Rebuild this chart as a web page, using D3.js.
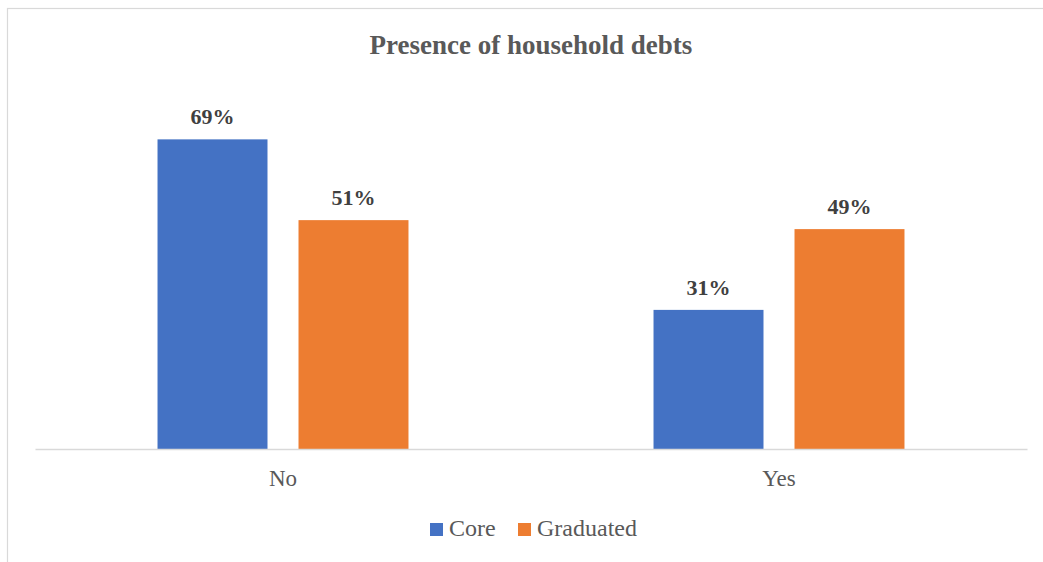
<!DOCTYPE html>
<html>
<head>
<meta charset="utf-8">
<script src="https://cdn.jsdelivr.net/npm/d3@7"></script>
<style>
  html, body { margin: 0; padding: 0; background: #fff; }
  svg { display: block; }
</style>
</head>
<body>
<svg id="chart" width="1043" height="562"></svg>
<script>
// Data
const categories = ["No", "Yes"];
const seriesNames = ["Core", "Graduated"];
const coreValues = [69, 31];
const graduatedValues = [51, 49];
const seriesColors = ["#4472C4", "#ED7D31"];
const titleText = "Presence of household debts";

const seriesValues = [coreValues, graduatedValues];
const rows = categories.map((c, i) => ({
  category: c,
  values: seriesNames.map((s, j) => ({ series: s, value: seriesValues[j][i], color: seriesColors[j] }))
}));

const svg = d3.select("#chart");
const W = 1043, H = 562;
const font = "'Liberation Serif', 'Times New Roman', serif";

// Chart frame (only the top and left edges fall inside the view)
svg.append("rect")
  .attr("x", 7.5).attr("y", 8.5)
  .attr("width", W + 20).attr("height", H + 20)
  .attr("fill", "#fff")
  .attr("stroke", "#d9d9d9").attr("stroke-width", 1.2);

// Plot area
const plot = { left: 35, right: 1027, top: 90, bottom: 449 };

const x0 = d3.scaleBand()
  .domain(categories)
  .range([plot.left, plot.right])
  .padding(0);

const x1 = d3.scaleBand()
  .domain(seriesNames)
  .range([0, x0.bandwidth()])
  .paddingInner(0.22)
  .paddingOuter(0.869);

const y = d3.scaleLinear()
  .domain([0, 80])
  .range([plot.bottom, plot.top]);

// Title
svg.append("text")
  .attr("x", 531).attr("y", 54)
  .attr("text-anchor", "middle")
  .attr("font-family", font)
  .attr("font-weight", "bold")
  .attr("font-size", 27)
  .attr("fill", "#595959")
  .text(titleText);

// Bars
const groups = svg.append("g").selectAll("g")
  .data(rows)
  .join("g")
  .attr("transform", d => `translate(${x0(d.category)},0)`);

groups.selectAll("rect")
  .data(d => d.values)
  .join("rect")
  .attr("x", d => x1(d.series))
  .attr("y", d => y(d.value))
  .attr("width", x1.bandwidth())
  .attr("height", d => y(0) - y(d.value))
  .attr("fill", d => d.color);

// Value labels
groups.selectAll("text")
  .data(d => d.values)
  .join("text")
  .attr("x", d => x1(d.series) + x1.bandwidth() / 2)
  .attr("y", d => y(d.value) - 15)
  .attr("text-anchor", "middle")
  .attr("font-family", font)
  .attr("font-weight", "bold")
  .attr("font-size", 22)
  .attr("fill", "#404040")
  .text(d => d.value + "%");

// Category axis
const xAxis = d3.axisBottom(x0).tickSize(0).tickPadding(0);
const axisG = svg.append("g")
  .attr("transform", `translate(0,${plot.bottom})`)
  .call(xAxis);
axisG.select(".domain")
  .attr("stroke", "#d9d9d9")
  .attr("stroke-width", 1.5);
axisG.selectAll(".tick text")
  .attr("dy", 0)
  .attr("y", 37)
  .attr("font-family", font)
  .attr("font-size", 23)
  .attr("fill", "#595959");

// Legend
const legendItems = [
  { name: seriesNames[0], color: seriesColors[0], x: 430 },
  { name: seriesNames[1], color: seriesColors[1], x: 518 }
];
const legend = svg.append("g");
const li = legend.selectAll("g")
  .data(legendItems)
  .join("g")
  .attr("transform", d => `translate(${d.x},523)`);
li.append("rect")
  .attr("width", 13).attr("height", 13)
  .attr("fill", d => d.color);
li.append("text")
  .attr("x", 19).attr("y", 13)
  .attr("font-family", font)
  .attr("font-size", 24)
  .attr("fill", "#595959")
  .text(d => d.name);
</script>
</body>
</html>
